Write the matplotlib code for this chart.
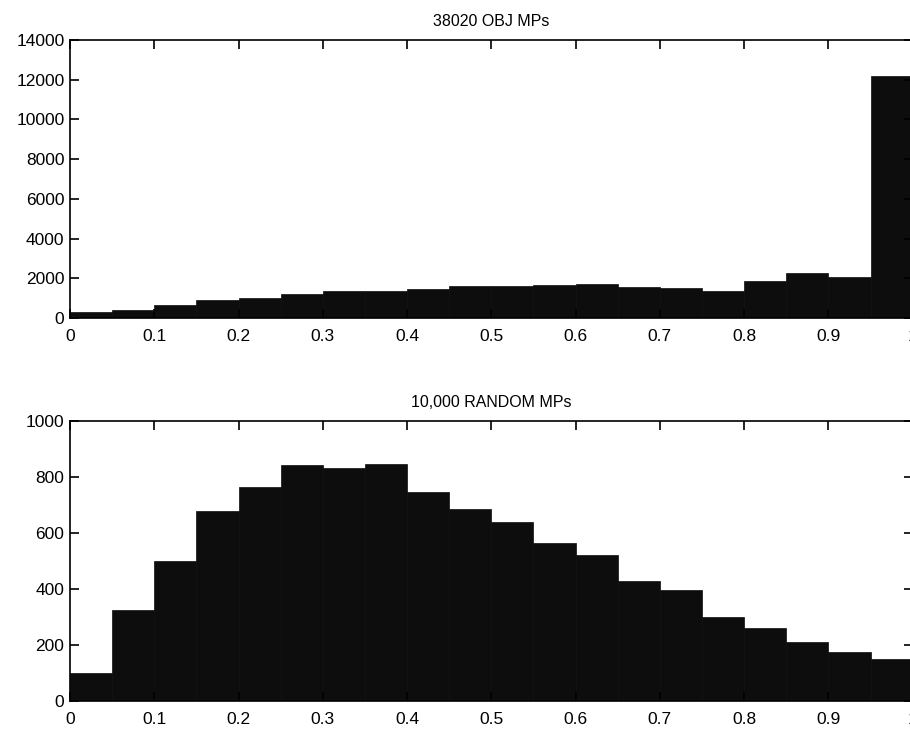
import matplotlib
matplotlib.use('Agg')
import matplotlib.pyplot as plt
import numpy as np

# Histogram counts, 20 bins of width 0.05 from 0 to 1
bin_edges = np.linspace(0, 1, 21)
obj_counts = [280, 420, 655, 905, 990, 1210, 1340, 1340, 1480, 1600,
              1600, 1650, 1700, 1550, 1520, 1370, 1870, 2280, 2080, 12200]
random_counts = [100, 325, 500, 680, 765, 842, 832, 846, 748, 685,
                 640, 565, 520, 430, 395, 300, 262, 210, 175, 150]

titles = ['38020 OBJ MPs', '10,000 RANDOM MPs']
ylims = [14000, 1000]
yticks = [np.arange(0, 14001, 2000), np.arange(0, 1001, 200)]
xticks = np.round(np.arange(0, 1.01, 0.1), 1)
xticklabels = ['0'] + [f'{t:g}' for t in xticks[1:-1]] + ['1']

plt.rcParams['font.family'] = ['Liberation Sans', 'DejaVu Sans']
plt.rcParams['font.size'] = 12.5

fig = plt.figure(figsize=(9.1, 7.3), dpi=100)
ax_top = fig.add_axes([0.0769, 0.5644, 0.926, 0.3808])
ax_bot = fig.add_axes([0.0769, 0.0397, 0.926, 0.3836])

for ax, counts, title, ymax, yt in zip([ax_top, ax_bot], [obj_counts, random_counts],
                                       titles, ylims, yticks):
    ax.bar(bin_edges[:-1], counts, width=np.diff(bin_edges), align='edge',
           color='#0d0d0d', edgecolor='#0d0d0d', linewidth=0.5)
    ax.set_xlim(0, 1)
    ax.set_ylim(0, ymax)
    ax.set_xticks(xticks)
    ax.set_xticklabels(xticklabels)
    ax.set_yticks(yt)
    ax.tick_params(direction='in', length=6.5, width=1.2, top=True, right=True)
    ax.tick_params(axis='x', pad=8)
    ax.tick_params(axis='y', pad=4)
    for s in ax.spines.values():
        s.set_linewidth(1.2)
    ax.set_title(title, fontsize=11.5, pad=10)

fig.savefig('out.png', dpi=100)
